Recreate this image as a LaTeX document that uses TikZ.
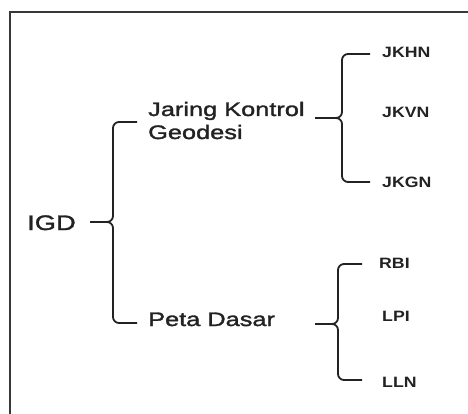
\documentclass[tikz,border=0pt]{standalone}
\usepackage{fontspec}
\setmainfont{Liberation Sans}[FakeStretch=1.3]
\newfontfamily\heavy{Liberation Sans}[FakeStretch=1.3,FakeBold=1.6]
\newfontfamily\smallbold{Liberation Sans Bold}[FakeStretch=1.18]
\definecolor{ink}{HTML}{222222}
\begin{document}
\begin{tikzpicture}[x=1pt,y=-1pt,
  lbl/.style={inner sep=0pt,anchor=base west,text=ink},
  big/.style={lbl,font=\heavy\fontsize{21}{25}\selectfont},
  mid/.style={lbl,font=\heavy\fontsize{19.5}{23}\selectfont,align=left},
  small/.style={lbl,font=\smallbold\fontsize{15}{17}\selectfont},
  brace/.style={draw=ink,line width=1.8pt,rounded corners=6pt},
  frame/.style={draw=ink!90,line width=2.2pt}]
\useasboundingbox (0,0) rectangle (468,414);
\clip (0,0) rectangle (468,414);
\draw[frame] (10,420) |- (475,12);
% labels
\node[big] (igd) at (27,230) {IGD};
\node[mid] (jkg) at (148,139) {Jaring Kontrol\\Geodesi};
\node[mid] (pd) at (148,326) {Peta Dasar};
\node[small] (jkhn) at (382,58) {JKHN};
\node[small] (jkvn) at (382,118) {JKVN};
\node[small] (jkgn) at (382,187) {JKGN};
\node[small] (rbi) at (379,268) {RBI};
\node[small] (lpi) at (382,321) {LPI};
\node[small] (lln) at (382,387) {LLN};
% brace 1
\coordinate (b1s) at (90,222);
\coordinate (b1m) at (113,222);
\coordinate (b1t) at (137,122);
\coordinate (b1b) at (137,323);
\draw[brace] (b1t) -| (b1m) -- (b1s);
\draw[brace] (b1b) -| (b1m) -- (b1s);
% brace 2
\coordinate (b2s) at (315,118);
\coordinate (b2m) at (342,118);
\coordinate (b2t) at (370,54);
\coordinate (b2b) at (370,182);
\draw[brace] (b2t) -| (b2m) -- (b2s);
\draw[brace] (b2b) -| (b2m) -- (b2s);
% brace 3
\coordinate (b3s) at (315,324);
\coordinate (b3m) at (338,324);
\coordinate (b3t) at (362,264);
\coordinate (b3b) at (362,380);
\draw[brace] (b3t) -| (b3m) -- (b3s);
\draw[brace] (b3b) -| (b3m) -- (b3s);
\end{tikzpicture}
\end{document}
